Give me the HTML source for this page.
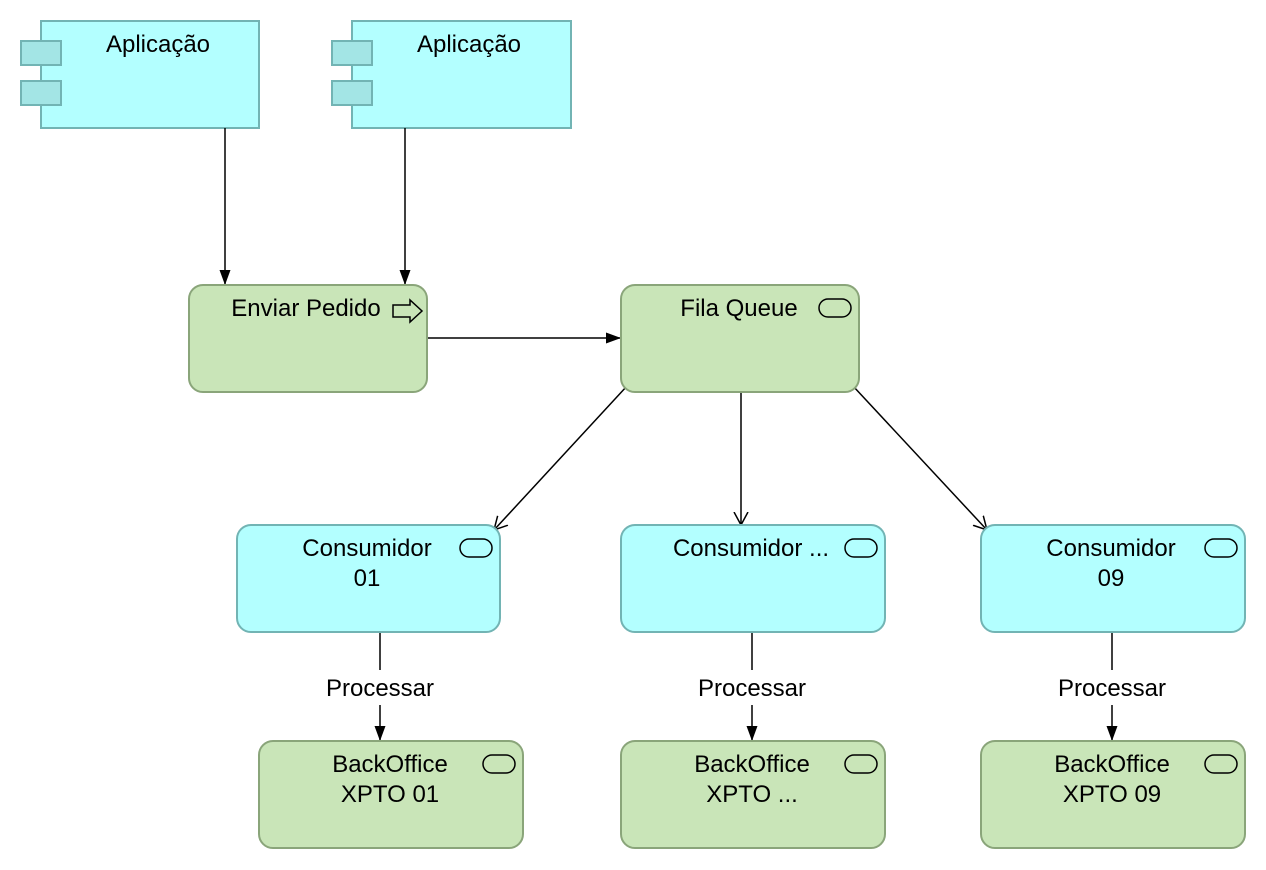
<!DOCTYPE html>
<html><head><meta charset="utf-8"><style>
html,body{margin:0;padding:0;background:#fff;}
svg{display:block;}
text{font-family:"Liberation Sans",sans-serif;font-size:24px;fill:#000;}
</style></head><body>
<svg width="1266" height="870" viewBox="0 0 1266 870" xmlns="http://www.w3.org/2000/svg">
<defs>
<marker id="fa" markerWidth="16" markerHeight="12" refX="15" refY="6" orient="auto" markerUnits="userSpaceOnUse">
<path d="M0,0.5 L15,6 L0,11.5 Z" fill="#000"/></marker>
<marker id="oa" markerWidth="14" markerHeight="16" refX="13" refY="8" orient="auto" markerUnits="userSpaceOnUse">
<path d="M0,1 L13,8 L0,15" fill="none" stroke="#000" stroke-width="1.5"/></marker>
</defs>
<g fill="#b3ffff" stroke="#72b4b4" stroke-width="2">
<rect x="41" y="21" width="218" height="107"/>
<rect x="21" y="41" width="40" height="24" fill="#a3e5e5"/>
<rect x="21" y="81" width="40" height="24" fill="#a3e5e5"/>
<rect x="352" y="21" width="219" height="107"/>
<rect x="332" y="41" width="40" height="24" fill="#a3e5e5"/>
<rect x="332" y="81" width="40" height="24" fill="#a3e5e5"/>
</g>
<text x="158" y="52" text-anchor="middle">Aplicação</text>
<text x="469" y="52" text-anchor="middle">Aplicação</text>
<g stroke="#000" stroke-width="1.5" fill="none">
<line x1="225" y1="128" x2="225" y2="285" marker-end="url(#fa)"/>
<line x1="405" y1="128" x2="405" y2="285" marker-end="url(#fa)"/>
<line x1="427" y1="338" x2="621" y2="338" marker-end="url(#fa)"/>
<line x1="627" y1="386" x2="494" y2="530" marker-end="url(#oa)"/>
<line x1="741" y1="393" x2="741" y2="525" marker-end="url(#oa)"/>
<line x1="853" y1="386" x2="987" y2="530" marker-end="url(#oa)"/>
<line x1="380" y1="632" x2="380" y2="670"/>
<line x1="380" y1="705" x2="380" y2="741" marker-end="url(#fa)"/>
<line x1="752" y1="632" x2="752" y2="670"/>
<line x1="752" y1="705" x2="752" y2="741" marker-end="url(#fa)"/>
<line x1="1112" y1="632" x2="1112" y2="670"/>
<line x1="1112" y1="705" x2="1112" y2="741" marker-end="url(#fa)"/>
</g>
<text x="380" y="696" text-anchor="middle">Processar</text>
<text x="752" y="696" text-anchor="middle">Processar</text>
<text x="1112" y="696" text-anchor="middle">Processar</text>
<g fill="#c9e5b8" stroke="#8aa57a" stroke-width="2">
<rect x="189" y="285" width="238" height="107" rx="14"/>
<rect x="621" y="285" width="238" height="107" rx="14"/>
<rect x="259" y="741" width="264" height="107" rx="14"/>
<rect x="621" y="741" width="264" height="107" rx="14"/>
<rect x="981" y="741" width="264" height="107" rx="14"/>
</g>
<g fill="#b3ffff" stroke="#72b4b4" stroke-width="2">
<rect x="237" y="525" width="263" height="107" rx="14"/>
<rect x="621" y="525" width="264" height="107" rx="14"/>
<rect x="981" y="525" width="264" height="107" rx="14"/>
</g>
<g fill="none" stroke="#000" stroke-width="1.5">
<path d="M393,305 L410,305 L410,300 L422,311 L410,322 L410,317 L393,317 Z"/>
<rect x="819" y="299" width="32" height="18" rx="9"/>
<rect x="460" y="539" width="32" height="18" rx="9"/>
<rect x="845" y="539" width="32" height="18" rx="9"/>
<rect x="1205" y="539" width="32" height="18" rx="9"/>
<rect x="483" y="755" width="32" height="18" rx="9"/>
<rect x="845" y="755" width="32" height="18" rx="9"/>
<rect x="1205" y="755" width="32" height="18" rx="9"/>
</g>
<text x="306" y="316" text-anchor="middle">Enviar Pedido</text>
<text x="739" y="316" text-anchor="middle">Fila Queue</text>
<text x="367" y="556" text-anchor="middle">Consumidor</text>
<text x="367" y="586" text-anchor="middle">01</text>
<text x="751" y="556" text-anchor="middle">Consumidor ...</text>
<text x="1111" y="556" text-anchor="middle">Consumidor</text>
<text x="1111" y="586" text-anchor="middle">09</text>
<text x="390" y="772" text-anchor="middle">BackOffice</text>
<text x="390" y="802" text-anchor="middle">XPTO 01</text>
<text x="752" y="772" text-anchor="middle">BackOffice</text>
<text x="752" y="802" text-anchor="middle">XPTO ...</text>
<text x="1112" y="772" text-anchor="middle">BackOffice</text>
<text x="1112" y="802" text-anchor="middle">XPTO 09</text>
</svg>
</body></html>
